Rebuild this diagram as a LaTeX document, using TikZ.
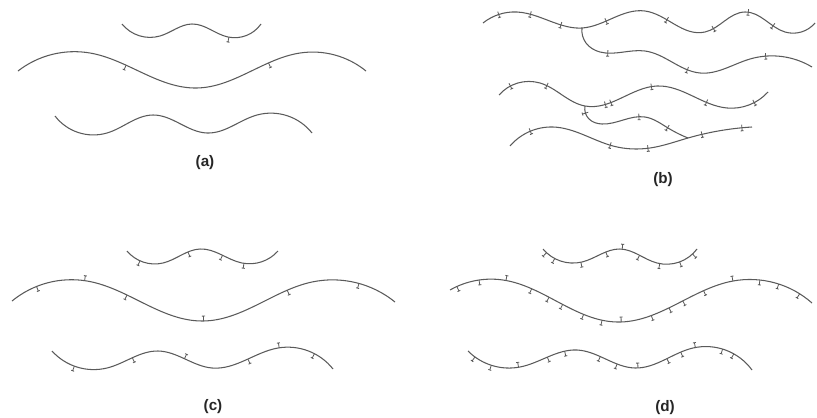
\documentclass[tikz,border=0pt]{standalone}
\usepackage{fontspec}
\setmainfont{Liberation Sans}
\usetikzlibrary{decorations.markings,hobby}
\definecolor{fibcol}{HTML}{5A5A5A}
\newcommand\tkd{\draw[tk] (0,0)--(0,-4.2pt) (-1.3pt,-4.2pt)--(1.3pt,-4.2pt);}
\newcommand\tku{\draw[tk] (0,0)--(0,4.2pt) (-1.3pt,4.2pt)--(1.3pt,4.2pt);}
\newcommand\tkc{\draw[tk] (0,-2.6pt)--(0,2.6pt) (-1.3pt,-2.6pt)--(1.3pt,-2.6pt);}
\tikzset{
  fib/.style={draw=fibcol, line width=0.9pt, use Hobby shortcut},
  tk/.style={draw=fibcol, line width=0.7pt},
  tks/.style={postaction={decorate,decoration={markings,#1}}},
  lab/.style={font=\fontsize{13}{15}\selectfont\bfseries, text=black!85}
}
\begin{document}
\begin{tikzpicture}[x=0.03cm, y=-0.03cm]
\useasboundingbox (0,0) rectangle (817,417);
% ---------- (a)
\draw[fib, tks={mark=at position 0.76 with {\tkd}}] (122,24) .. (160,36) .. (192,24) .. (228,37) .. (261,24);
\draw[fib, tks={mark=at position 0.31 with {\tkd}, mark=at position 0.72 with {\tkd}}] (18,71) .. (90,53) .. (197,88) .. (300,53) .. (366,71);
\draw[fib] (55,116) .. (107,133) .. (153,115) .. (207,133) .. (257,115) .. (312,133);
\node[lab] (la) at (205,163) {(a)};
% ---------- (b)
\draw[fib, tks={mark=at position 0.05 with {\tkc}, mark=at position 0.14 with {\tkc}, mark=at position 0.23 with {\tkc}, mark=at position 0.36 with {\tkc}, mark=at position 0.54 with {\tkc}, mark=at position 0.68 with {\tkc}, mark=at position 0.79 with {\tkc}, mark=at position 0.87 with {\tkc}}] (483,23) .. (517,12) .. (558,24) .. (582,28) .. (645,11) .. (705,32) .. (745,12) .. (785,32) .. (815,23);
\draw[fib, tks={mark=at position 0.16 with {\tkc}, mark=at position 0.49 with {\tkc}, mark=at position 0.81 with {\tkc}}] (582,28) .. (586,43) .. (600,52) .. (645,51) .. (700,73) .. (750,59) .. (812,67);
\draw[fib, tks={mark=at position 0.05 with {\tkc}, mark=at position 0.18 with {\tkc}, mark=at position 0.40 with {\tkc}, mark=at position 0.42 with {\tkc}, mark=at position 0.57 with {\tkc}, mark=at position 0.77 with {\tkc}, mark=at position 0.94 with {\tkc}}] (499,95) .. (540,83) .. (585,106) .. (657,86) .. (727,108) .. (768,92);
\draw[fib, tks={mark=at position 0.06 with {\tkc}, mark=at position 0.55 with {\tkc}, mark=at position 0.81 with {\tkc}}] (585,106) .. (589,119) .. (602,124) .. (645,117) .. (668,128) .. (688,138);
\draw[fib, tks={mark=at position 0.1 with {\tkc}, mark=at position 0.43 with {\tkc}, mark=at position 0.58 with {\tkc}, mark=at position 0.80 with {\tkc}, mark=at position 0.96 with {\tkc}}] (510,146) .. (553,127) .. (613,146) .. (650,148) .. (688,138) .. (752,127);
\node[lab] (lb) at (663,180) {(b)};
% ---------- (c)
\draw[fib, tks={mark=at position 0.1 with {\tkd}, mark=at position 0.41 with {\tkd}, mark=at position 0.63 with {\tkd}, mark=at position 0.77 with {\tkd}}] (127,251) .. (163,263) .. (200,249) .. (242,263) .. (278,251);
\draw[fib, tks={mark=at position 0.07 with {\tkd}, mark=at position 0.19 with {\tku}, mark=at position 0.30 with {\tkd}, mark=at position 0.50 with {\tku}, mark=at position 0.72 with {\tkd}, mark=at position 0.90 with {\tkd}}] (12,301) .. (87,281) .. (203,321) .. (312,282) .. (395,302);
\draw[fib, tks={mark=at position 0.09 with {\tkd}, mark=at position 0.29 with {\tkd}, mark=at position 0.47 with {\tku}, mark=at position 0.69 with {\tkd}, mark=at position 0.80 with {\tku}, mark=at position 0.92 with {\tkd}}] (52,351) .. (107,368) .. (158,351) .. (212,368) .. (278,348) .. (333,369);
\node[lab] (lc) at (213,407) {(c)};
% ---------- (d)
\draw[fib, tks={mark=at position 0.03 with {\tkd}, mark=at position 0.09 with {\tkd}, mark=at position 0.25 with {\tkd}, mark=at position 0.41 with {\tkd}, mark=at position 0.51 with {\tku}, mark=at position 0.62 with {\tkd}, mark=at position 0.75 with {\tkd}, mark=at position 0.87 with {\tkd}, mark=at position 0.96 with {\tkd}}] (543,249) .. (582,262) .. (620,249) .. (657,263) .. (697,249);
\draw[fib, tks={mark=at position 0.02 with {\tkd}, mark=at position 0.08 with {\tkd}, mark=at position 0.15 with {\tku}, mark=at position 0.22 with {\tkd}, mark=at position 0.27 with {\tkd}, mark=at position 0.31 with {\tkd}, mark=at position 0.37 with {\tkd}, mark=at position 0.42 with {\tkd}, mark=at position 0.47 with {\tku}, mark=at position 0.55 with {\tkd}, mark=at position 0.60 with {\tkd}, mark=at position 0.64 with {\tkd}, mark=at position 0.70 with {\tkd}, mark=at position 0.78 with {\tku}, mark=at position 0.85 with {\tkd}, mark=at position 0.90 with {\tkd}, mark=at position 0.96 with {\tkd}}] (450,290) .. (503,280) .. (617,322) .. (733,281) .. (812,303);
\draw[fib, tks={mark=at position 0.03 with {\tkd}, mark=at position 0.09 with {\tkd}, mark=at position 0.18 with {\tku}, mark=at position 0.28 with {\tkd}, mark=at position 0.34 with {\tkd}, mark=at position 0.46 with {\tkd}, mark=at position 0.52 with {\tkd}, mark=at position 0.59 with {\tku}, mark=at position 0.69 with {\tkd}, mark=at position 0.74 with {\tkd}, mark=at position 0.79 with {\tku}, mark=at position 0.88 with {\tkd}, mark=at position 0.92 with {\tkd}}] (468,351) .. (520,367) .. (577,350) .. (635,368) .. (693,348) .. (752,370);
\node[lab] (ld) at (665,408) {(d)};
\end{tikzpicture}
\end{document}
